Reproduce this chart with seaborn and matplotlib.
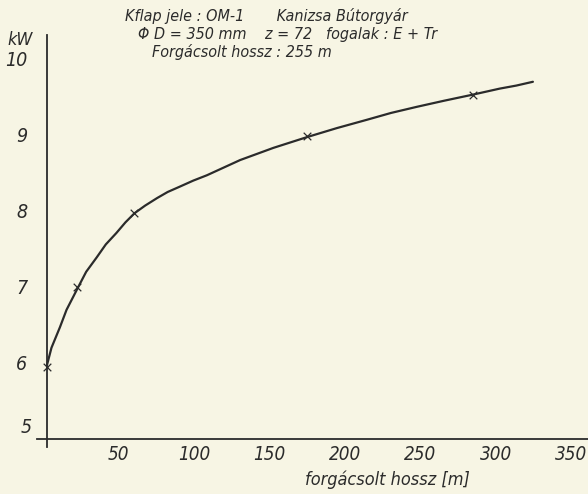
import matplotlib
matplotlib.use("Agg")
import matplotlib.pyplot as plt
from matplotlib import font_manager
from matplotlib.transforms import ScaledTranslation
import seaborn as sns
import pandas as pd

# curve (forgácsolt hossz [m] -> kW)
curve_len = [0, 3, 8.6, 13, 20.5, 26, 33, 39, 46, 52, 58, 65, 73, 80, 88, 97, 106,
             117, 128, 139, 150, 161, 172, 192, 212, 228, 245, 263, 282, 300, 311, 322]
curve_kw = [5.97, 6.2, 6.47, 6.7, 6.99, 7.2, 7.39, 7.56, 7.71, 7.85, 7.97, 8.07, 8.17,
            8.25, 8.32, 8.4, 8.47, 8.57, 8.67, 8.75, 8.83, 8.9, 8.97, 9.09, 9.2, 9.29,
            9.37, 9.45, 9.53, 9.61, 9.65, 9.7]

# measured points (x marks)
meas_len = [0, 20, 58, 172, 282]
meas_kw = [5.95, 7.0, 7.97, 8.98, 9.52]

x_ticks = [50, 100, 150, 200, 250, 300, 350]
y_ticks = [6, 7, 8, 9, 10]

# header lines: (x px, y px, text)
header = [
    (125, 16, "Kflap jele : OM-1       Kanizsa Bútorgyár"),
    (138, 34, "Φ D = 350 mm    z = 72   fogalak : E + Tr"),
    (152, 52, "Forgácsolt hossz : 255 m"),
]

sns.set_theme(style="white")
plt.rcParams["font.family"] = ["DejaVu Sans"]
plt.rcParams["font.style"] = "italic"


def pick_narrow_font():
    # the lettering is a narrow stencil hand, so look for a condensed face
    good = []
    for f in font_manager.fontManager.ttflist:
        narrow = ("Condensed" in f.name or "Narrow" in f.name
                  or f.stretch in ("condensed", "semi-condensed", 600, 700))
        if narrow and f.style in ("italic", "oblique") and f.weight in ("normal", 400, "regular"):
            good.append(f.fname)
    if good:
        return font_manager.FontProperties(fname=sorted(good)[0])
    return font_manager.FontProperties(family="DejaVu Sans", style="italic", stretch="condensed")


fp = pick_narrow_font()

bg = "#f7f5e4"
ink = "#2b2b2b"

fig = plt.figure(figsize=(5.88, 4.94), dpi=100, facecolor=bg)
ax = fig.add_axes([0, 0, 1, 1], facecolor=bg)

curve = pd.DataFrame({"len": curve_len, "kw": curve_kw})
meas = pd.DataFrame({"len": meas_len, "kw": meas_kw})

sns.lineplot(data=curve, x="len", y="kw", sort=False, color=ink, lw=1.6, ax=ax)
sns.scatterplot(data=meas, x="len", y="kw", marker="x", s=30, color=ink, linewidth=0.9, ax=ax, zorder=3)

ax.set_xlim(-31.1, 358.5)
ax.set_ylim(4.276, 10.776)

for side in ["top", "right"]:
    ax.spines[side].set_visible(False)
ax.spines["left"].set_position(("data", 0))
ax.spines["bottom"].set_position(("data", 5))
ax.spines["left"].set_bounds(4.895, 10.32)
ax.spines["bottom"].set_bounds(-6.6, 358.5)
for side in ["left", "bottom"]:
    ax.spines[side].set_color(ink)
    ax.spines[side].set_linewidth(1.3)

ax.set_xticks(x_ticks)
ax.set_yticks(y_ticks)
ax.tick_params(axis="x", direction="in", length=6, width=1, color=ink, pad=4, labelcolor=ink)
ax.tick_params(axis="y", direction="out", length=6, width=1, color=ink, pad=8, labelcolor=ink)
# hand lettering sits a touch left of each tick
shift = ScaledTranslation(-4 / 100, 0, fig.dpi_scale_trans)
for lab in ax.get_xticklabels():
    lab.set_fontproperties(fp)
    lab.set_fontsize(13.5)
    lab.set_transform(lab.get_transform() + shift)
for lab in ax.get_yticklabels():
    lab.set_fontproperties(fp)
    lab.set_fontsize(14)
ax.set_xlabel("")
ax.set_ylabel("")

# '5' sits above the origin, 'kW' on top of the y axis
ax.text(-14, 5.15, "5", fontproperties=fp, fontsize=14, color=ink, ha="center", va="center")
fig.text(20 / 588, 1 - 40 / 494, "kW", fontproperties=fp, fontsize=13, color=ink,
         ha="center", va="center")
fig.text(387 / 588, 1 - 480 / 494, "forgácsolt hossz [m]", fontproperties=fp, fontsize=13,
         color=ink, ha="center", va="center")

for px, py, txt in header:
    fig.text(px / 588, 1 - py / 494, txt, fontproperties=fp, fontsize=11.5, color=ink,
             ha="left", va="center")

fig.savefig("out.png", dpi=100, facecolor=bg)
